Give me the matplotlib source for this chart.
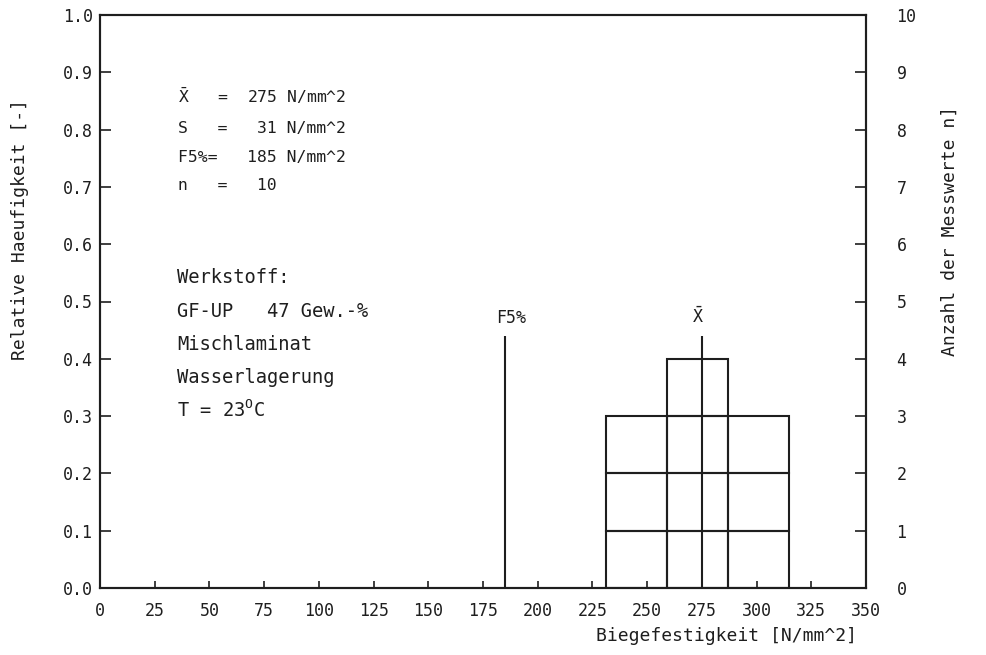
import matplotlib.pyplot as plt
import numpy as np

plt.rcParams['font.family'] = ['DejaVu Sans Mono', 'DejaVu Sans']
plt.rcParams['mathtext.fontset'] = 'dejavusans'

# Klassen der Biegefestigkeit [N/mm^2] und Anzahl der Messwerte je Klasse
bin_edges = [231, 259, 287, 315]
counts = [3, 4, 3]
n_total = sum(counts)

# Kennwerte
x_mean = 275
s_dev = 31
f5 = 185
marker_top = 0.44   # Hoehe der Markierungslinien (rel. Haeufigkeit)

x_ticks = np.arange(0, 351, 25)
rel_ticks = np.round(np.arange(0, 1.01, 0.1), 1)
count_ticks = np.arange(0, 11, 1)

stat_lines = [
    rf"$\bar{{\mathtt{{X}}}}$   =  {x_mean:3d} N/mm^2",
    f"S   =  {s_dev:3d} N/mm^2",
    f"F5%=   {f5:3d} N/mm^2",
    f"n   =  {n_total:3d}",
]
werkstoff_lines = [
    "Werkstoff:",
    "GF-UP   47 Gew.-%",
    "Mischlaminat",
    "Wasserlagerung",
    r"T = 23$^\mathregular{O}$C",
]

ink = '#1e1e1e'
lw = 1.5

fig = plt.figure(figsize=(9.86, 6.55), dpi=100)
ax = fig.add_axes([100 / 986, 1 - 588 / 655, 766 / 986, 573 / 655])
ax2 = ax.twinx()

ax.set_xlim(0, 350)
ax.set_ylim(0, 1)
ax2.set_ylim(0, 10)

# Histogramm als gestapelte Einzelkaesten (ein Kasten je Messwert)
for left, right, c in zip(bin_edges[:-1], bin_edges[1:], counts):
    ax2.bar([left] * c, 1, width=right - left, bottom=np.arange(c), align='edge',
            fill=False, edgecolor=ink, linewidth=lw, zorder=3)

# Markierungen fuer F5% und Mittelwert
ax.vlines([f5, x_mean], 0, marker_top, color=ink, linewidth=lw, zorder=4)
ax.text(f5 + 3, marker_top + 0.015, "F5%", ha='center', va='bottom',
        fontsize=12, color=ink)
ax.text(x_mean - 2, marker_top + 0.015, r"$\bar{\mathtt{X}}$", ha='center',
        va='bottom', fontsize=12, color=ink)

# Kennwerte oben links
stat_y = [0.8464, 0.794, 0.7435, 0.6946]
for y, line in zip(stat_y, stat_lines):
    ax.text(0.1018, y, line, transform=ax.transAxes, fontsize=11.8,
            va='baseline', ha='left', color=ink)

# Werkstoffangaben
werk_y = [0.532, 0.473, 0.415, 0.358, 0.298]
for y, line in zip(werk_y, werkstoff_lines):
    ax.text(0.1005, y, line, transform=ax.transAxes, fontsize=13.5,
            va='baseline', ha='left', color=ink)

# Achsen
ax.set_xticks(x_ticks)
ax.set_xticklabels([str(v) for v in x_ticks])
ax.set_yticks(rel_ticks)
ax.set_yticklabels([f"{v:.1f}" for v in rel_ticks])
ax2.set_yticks(count_ticks)
ax2.set_yticklabels([str(v) for v in count_ticks])

ax.tick_params(axis='x', direction='in', length=5, width=1.2, pad=10,
               labelsize=12, colors=ink)
ax.tick_params(axis='y', direction='in', length=8, width=1.2, pad=5,
               labelsize=12, colors=ink)
ax2.tick_params(axis='y', direction='in', length=8, width=1.2, pad=22,
                labelsize=12, colors=ink)

for a in (ax, ax2):
    for sp in a.spines.values():
        sp.set_linewidth(lw)
        sp.set_color(ink)

fig.text(20 / 986, 1 - 230 / 655, "Relative Haeufigkeit [-]", rotation=90,
         ha='center', va='center', fontsize=13, color=ink)
fig.text(950 / 986, 1 - 231 / 655, "Anzahl der Messwerte n]", rotation=90,
         ha='center', va='center', fontsize=13, color=ink)
fig.text(727 / 986, 1 - 636 / 655, "Biegefestigkeit [N/mm^2]",
         ha='center', va='center', fontsize=13, color=ink)

fig.savefig('out.png', dpi=100, facecolor='white')
